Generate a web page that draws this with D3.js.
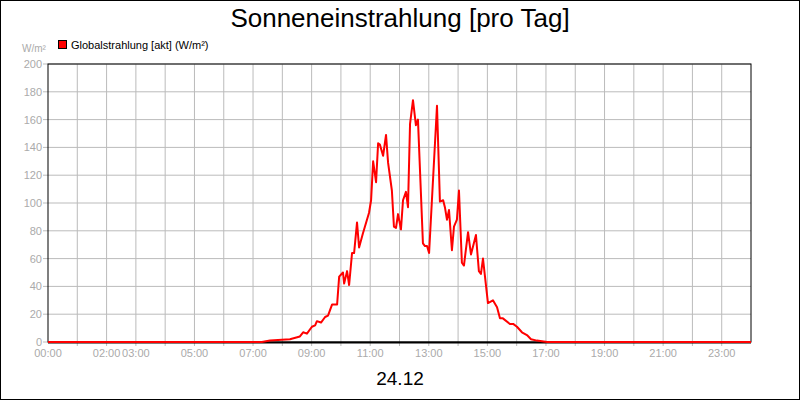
<!DOCTYPE html>
<html><head><meta charset="utf-8">
<script src="https://cdn.jsdelivr.net/npm/d3@7"></script>
<style>body{margin:0;background:#fff}text{font-family:"Liberation Sans",Arial,sans-serif}</style>
</head><body><svg id="c" width="800" height="400"></svg>
<script>
const hours = [0,7.3,7.58,8.26,8.60,8.71,8.84,9.01,9.12,9.18,9.32,9.46,9.56,9.70,9.87,9.94,10.07,10.11,10.21,10.28,10.38,10.45,10.55,10.62,10.75,10.96,11.03,11.10,11.20,11.27,11.33,11.44,11.54,11.61,11.74,11.81,11.88,11.95,12.05,12.12,12.22,12.29,12.36,12.46,12.56,12.63,12.80,12.87,12.94,13.01,13.28,13.38,13.49,13.55,13.62,13.69,13.79,13.86,13.96,14.03,14.13,14.20,14.34,14.44,14.61,14.71,14.78,14.85,15.02,15.19,15.33,15.43,15.53,15.77,15.88,16.01,16.18,16.35,16.49,16.69,17.04,24];
const values = [0,0,1,2,4,7,6,11,12,15,14,18,19,27,27,47,50,42,51,41,64,64,86,68,78,93,102,130,115,143,142,134,149,129,109,83,82,92,81,102,108,97,157,174,156,160,71,69,69,64,170,101,102,97,88,95,66,83,88,109,57,55,79,63,77,51,49,60,28,30,25,17,17,13,13,11,7,5,2,1,0,0];
const tickHours = [0,2,3,5,7,9,11,13,15,17,19,21,23];
const yTicks = [0,20,40,60,80,100,120,140,160,180,200];

const svg = d3.select("#c");
const L=48,R=751,T=64,B=342;
const x = d3.scaleLinear().domain([0,24]).range([L,R]);
const y = d3.scaleLinear().domain([0,200]).range([B,T]);
svg.append("rect").attr("x",0.5).attr("y",0.5).attr("width",799).attr("height",399).attr("fill","#fff").attr("stroke","#000");
const g = svg.append("g");
g.selectAll(".vg").data(d3.range(1,24)).join("line").attr("x1",d=>x(d)).attr("x2",d=>x(d)).attr("y1",T).attr("y2",B+4).attr("stroke","#bbb");
g.selectAll(".hg").data(yTicks.slice(1)).join("line").attr("x1",L-5).attr("x2",R).attr("y1",d=>y(d)).attr("y2",d=>y(d)).attr("stroke","#bbb");
svg.append("line").attr("x1",L-5).attr("x2",L).attr("y1",B).attr("y2",B).attr("stroke","#bbb");
svg.append("rect").attr("x",L).attr("y",T).attr("width",R-L).attr("height",B-T).attr("fill","none").attr("stroke","#000");
svg.append("line").attr("x1",L).attr("x2",R).attr("y1",B+0.5).attr("y2",B+0.5).attr("stroke","#000").attr("stroke-width",2);
svg.selectAll(".yl").data(yTicks).join("text").attr("x",L-6).attr("y",d=>y(d)+4).attr("text-anchor","end").attr("font-size",11).attr("fill","#aaa").text(d=>d);
svg.selectAll(".xl").data(tickHours).join("text").attr("x",d=>x(d)).attr("y",B+15).attr("text-anchor","middle").attr("font-size",11).attr("fill","#aaa").text(d=>String(d).padStart(2,"0")+":00");
svg.append("path").datum(hours.map((h,i)=>[h,values[i]])).attr("fill","none").attr("stroke","#f00").attr("stroke-width",2).attr("stroke-linejoin","round")
 .attr("d",d3.line().x(d=>x(d[0])).y(d=>y(d[1])));
svg.append("text").attr("x",400).attr("y",27).attr("text-anchor","middle").attr("font-size",26).text("Sonneneinstrahlung [pro Tag]");
svg.append("text").attr("x",400).attr("y",385).attr("text-anchor","middle").attr("font-size",19).text("24.12");
svg.append("text").attr("x",22).attr("y",52).attr("font-size",10).attr("fill","#aaa").text("W/m²");
svg.append("rect").attr("x",58.5).attr("y",40.5).attr("width",8).attr("height",8).attr("fill","#f00").attr("stroke","#000");
svg.append("text").attr("x",71).attr("y",49).attr("font-size",11).text("Globalstrahlung [akt] (W/m²)");
</script></body></html>
